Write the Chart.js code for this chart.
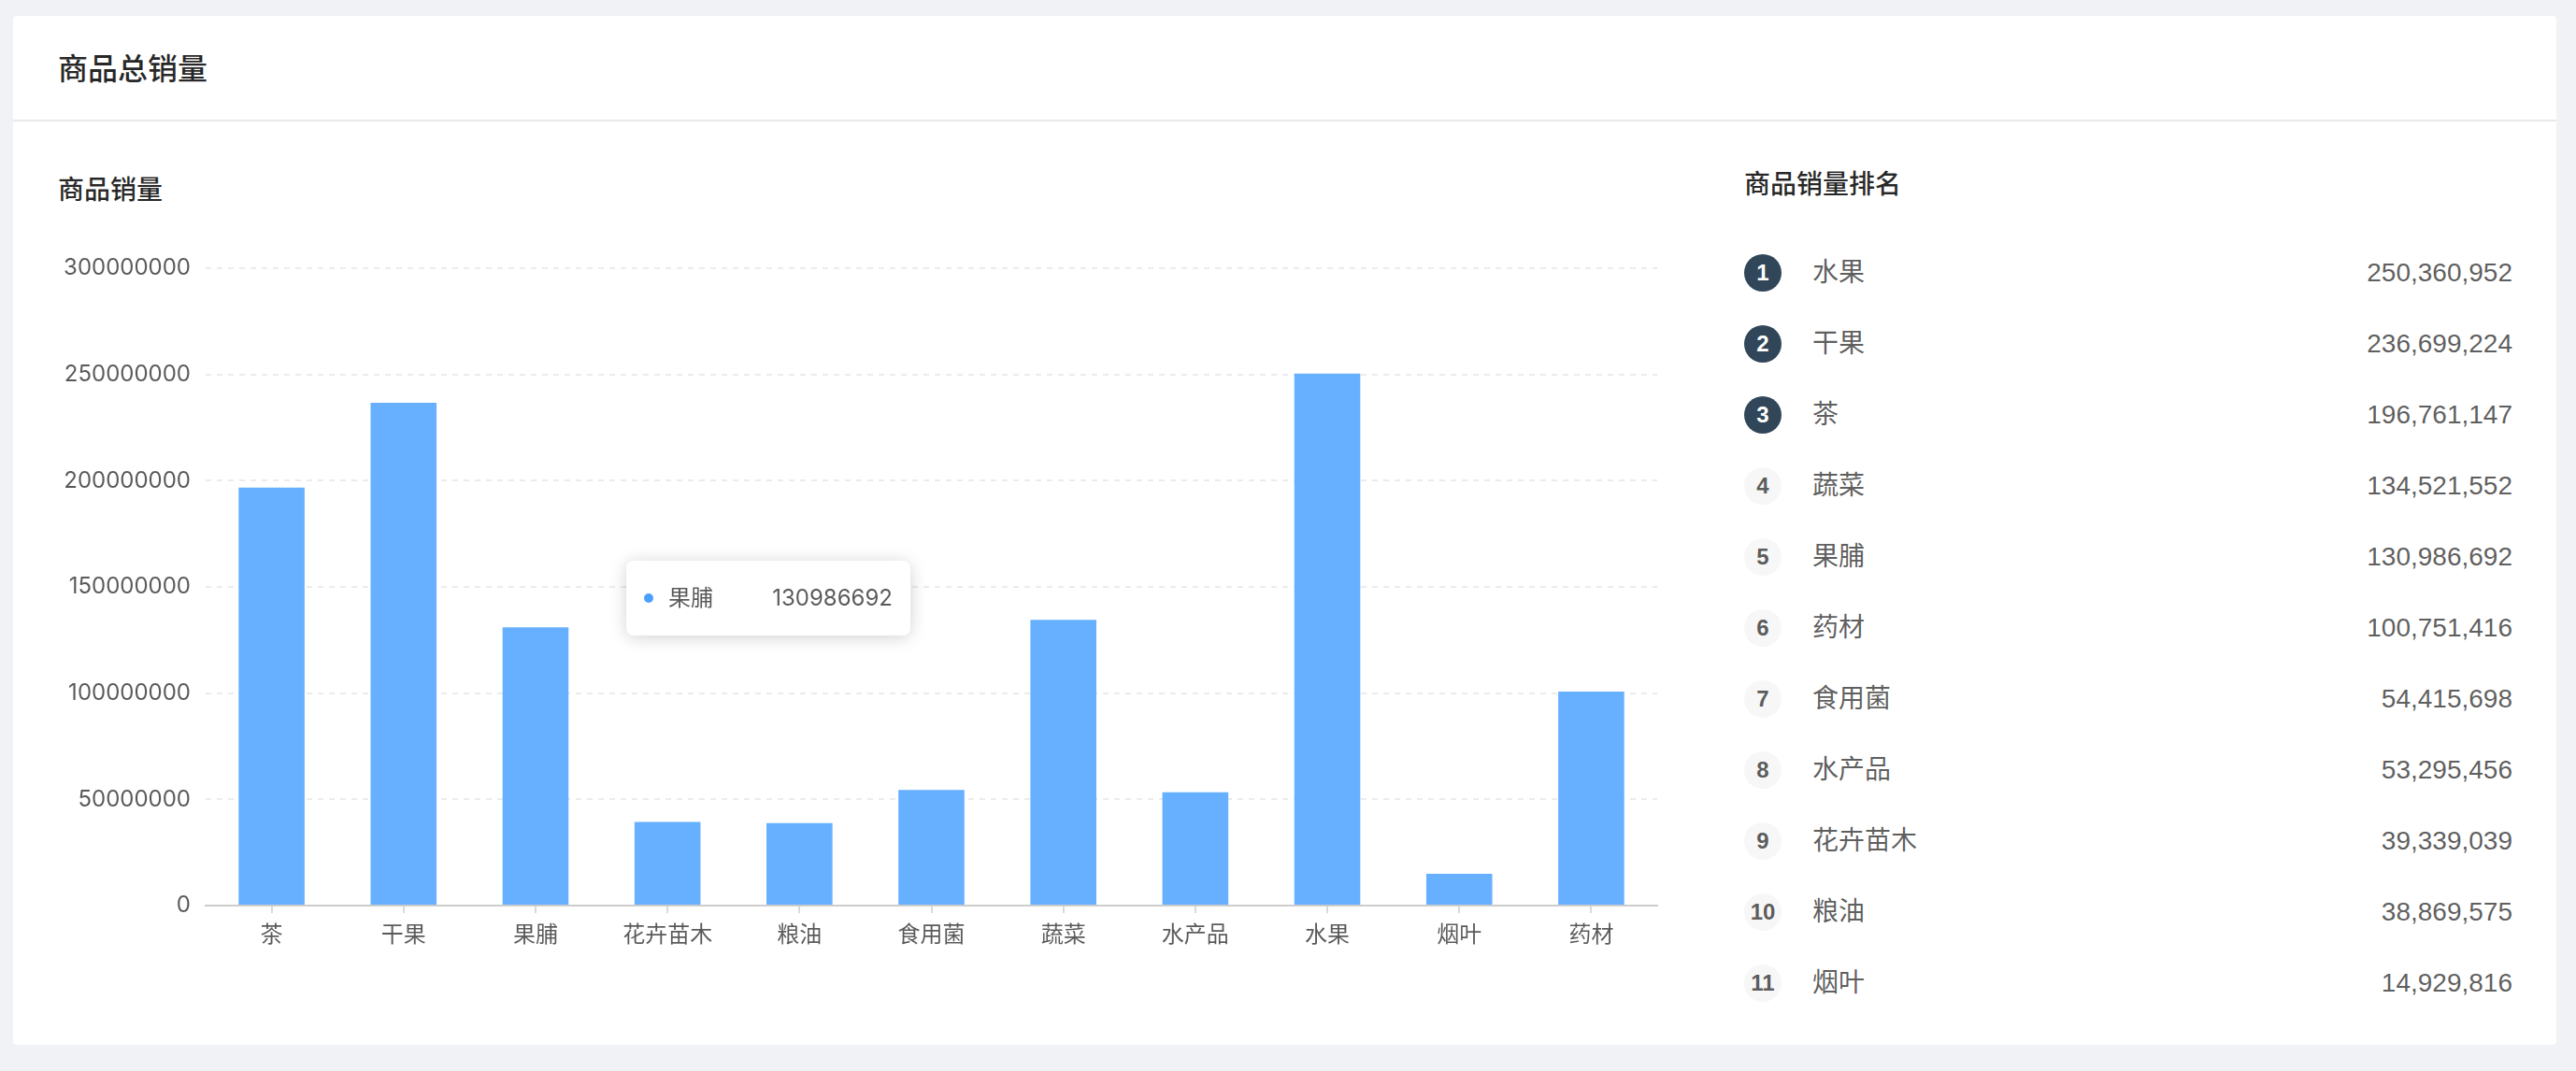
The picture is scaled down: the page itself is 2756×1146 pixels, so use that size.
<!DOCTYPE html>
<html>
<head>
<meta charset="utf-8">
<script src="https://cdn.jsdelivr.net/npm/chart.js@4.4.1/dist/chart.umd.min.js"></script>
<style>
  html, body { margin:0; padding:0; width:2756px; height:1146px; overflow:hidden; background:#f0f2f5;
    font-family:"Helvetica Neue", Helvetica, "Liberation Sans", Arial, "Noto Sans CJK SC", sans-serif; }
  .card { position:absolute; left:14px; top:17px; width:2721px; height:1101px; background:#fff; border-radius:4px; }
  .head { position:absolute; left:0; top:0; right:0; height:111px; border-bottom:2px solid #e8e8e8; }
  .title { position:absolute; left:48px; top:41px; font-size:32px; line-height:32px; font-weight:500; color:rgba(0,0,0,0.85); }
  .sub { position:absolute; font-size:28px; line-height:28px; font-weight:500; color:rgba(0,0,0,0.85); }
  #chartWrap { position:absolute; left:62px; top:240px; width:1740px; height:820px; }
  .rank { position:absolute; left:1852px; width:822px; height:40px; }
  .rank .num { position:absolute; left:0; top:0; width:40px; height:40px; border-radius:20px; background:#f7f7f7;
    color:rgba(0,0,0,0.65); font-size:24px; line-height:40px; text-align:center; font-weight:600; }
  .rank .num.top { background:#314659; color:#fff; }
  .rank .name { position:absolute; left:73px; top:0; font-size:28px; line-height:40px; color:rgba(0,0,0,0.65); }
  .rank .val { position:absolute; right:0; top:0; font-size:28px; line-height:40px; color:rgba(0,0,0,0.65); }
  #tip { position:absolute; width:304px; height:80px; background:#fff; border-radius:8px;
    box-shadow:0 2px 18px rgba(0,0,0,0.18); display:none; }
  #tip .dot { position:absolute; left:19px; top:35px; width:10px; height:10px; border-radius:5px; background:#4aa0ff; }
  #tip .tname { position:absolute; left:45px; top:0; line-height:80px; font-size:24px; color:rgba(0,0,0,0.65); }
  #tip .tval { position:absolute; right:19px; top:0; line-height:80px; font-size:24px; color:rgba(0,0,0,0.65);
    font-family:Inter, "Liberation Sans", sans-serif; }
</style>
</head>
<body>
<div class="card">
  <div class="head"><div class="title">商品总销量</div></div>
  <div class="sub" style="left:48px; top:173px;">商品销量</div>
  <div class="sub" style="left:1852px; top:167px;">商品销量排名</div>
  <div id="rankList"></div>
</div>
<div id="chartWrap"><canvas id="c" width="1740" height="820"></canvas></div>
<div id="tip"><span class="dot"></span><span class="tname"></span><span class="tval"></span></div>
<script>
const categories = ['茶', '干果', '果脯', '花卉苗木', '粮油', '食用菌', '蔬菜', '水产品', '水果', '烟叶', '药材'];
const salesValues = [196761147, 236699224, 130986692, 39339039, 38869575, 54415698, 134521552, 53295456, 250360952, 14929816, 100751416];
const yTickValues = [0, 50000000, 100000000, 150000000, 200000000, 250000000, 300000000];
const tooltipIndex = 2;

// ranking list
const ranked = categories.map((c, i) => ({ name: c, value: salesValues[i] }))
  .sort((a, b) => b.value - a.value);
const list = document.getElementById('rankList');
ranked.forEach((r, i) => {
  const row = document.createElement('div');
  row.className = 'rank';
  row.style.top = (255 + i * 76) + 'px';
  row.innerHTML = '<span class="num' + (i < 3 ? ' top' : '') + '">' + (i + 1) + '</span>' +
    '<span class="name">' + r.name + '</span>' +
    '<span class="val">' + r.value.toLocaleString('en-US') + '</span>';
  list.appendChild(row);
});

Chart.defaults.font.family = '"Helvetica Neue", Helvetica, "Liberation Sans", Arial, "Noto Sans CJK SC", sans-serif';
Chart.defaults.color = 'rgba(0,0,0,0.65)';

const chart = new Chart(document.getElementById('c'), {
  type: 'bar',
  data: {
    labels: categories,
    datasets: [{
      data: salesValues,
      backgroundColor: '#66b0ff',
      borderWidth: 0,
      barPercentage: 0.5,
      categoryPercentage: 1.0
    }]
  },
  options: {
    responsive: false,
    devicePixelRatio: 1,
    animation: false,
    layout: { padding: { left: 0, right: 29, top: 47, bottom: 31 } },
    plugins: { legend: { display: false }, tooltip: { enabled: false } },
    scales: {
      x: {
        grid: { display: true, drawOnChartArea: false, drawTicks: true, tickLength: 8, offset: false,
          color: '#d9d9d9', lineWidth: 2 },
        border: { display: true, color: '#cccccc', width: 2 },
        ticks: { font: { size: 24 }, padding: 10, color: 'rgba(0,0,0,0.65)', maxRotation: 0 },
        afterFit: (s) => { s.height = 60; }
      },
      y: {
        z: 1,
        min: 0,
        max: 300000000,
        afterBuildTicks: (s) => { s.ticks = yTickValues.map(v => ({ value: v })); },
        grid: { drawTicks: false, lineWidth: 2,
          color: (ctx) => (ctx.tick && ctx.tick.value === 0) ? 'rgba(0,0,0,0)' : 'rgba(0,0,0,0.08)' },
        border: { display: false, dash: [6, 6] },
        ticks: { font: { size: 24, family: 'Inter, "Liberation Sans", sans-serif' }, padding: 16,
          color: 'rgba(0,0,0,0.65)', callback: (v) => String(v) },
        afterFit: (s) => { s.width = 158; }
      }
    }
  }
});

// tooltip anchored to the hovered bar element
const bar = chart.getDatasetMeta(0).data[tooltipIndex];
const tip = document.getElementById('tip');
tip.querySelector('.tname').textContent = categories[tooltipIndex];
tip.querySelector('.tval').textContent = String(salesValues[tooltipIndex]);
tip.style.left = (62 + bar.x + 97) + 'px';
tip.style.top = (240 + bar.y - 71) + 'px';
tip.style.display = 'block';
</script>
</body>
</html>
